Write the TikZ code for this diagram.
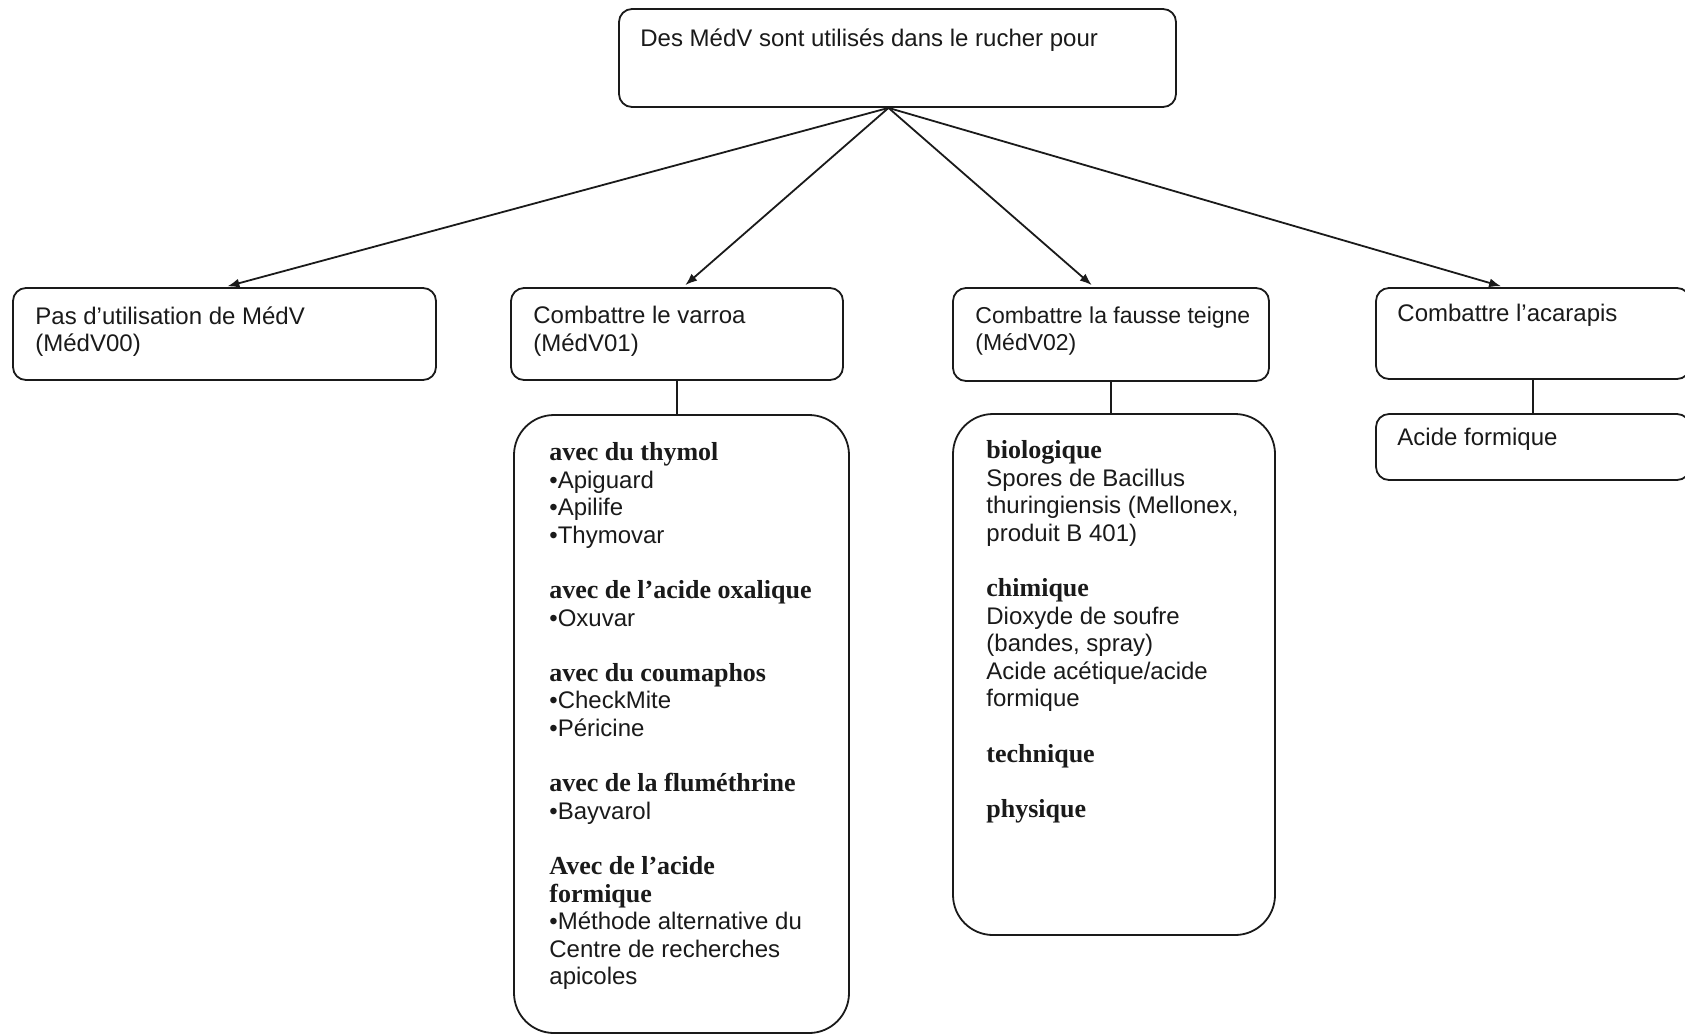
\documentclass[tikz,border=0pt]{standalone}
\usepackage{fontspec}
\setmainfont{Liberation Sans}
\newfontfamily\hdfont[Ligatures=TeX]{Liberation Serif}
\usetikzlibrary{arrows.meta,positioning,calc}
\definecolor{ink}{HTML}{1A1A1A}
\newcommand{\hd}[1]{{\hdfont\bfseries\fontsize{13}{13.8}\selectfont #1}}
\tikzset{
  >=Latex,
  every picture/.style={line cap=round, line join=round},
  every node/.style={font=\fontsize{12}{13.8}\selectfont, text=ink},
  box/.style={draw=ink, line width=0.9pt, rounded corners=6.5pt, fill=white},
  bigbox/.style={box, rounded corners=20pt},
  txt/.style={anchor=north west, align=left, inner sep=0pt},
  arrow/.style={-{Latex[length=6pt,width=4.5pt]}, line width=0.9pt, draw=ink, shorten >=1.5pt},
  conn/.style={line width=0.9pt, draw=ink}
}

\begin{document}
\begin{tikzpicture}[x=0.5pt, y=-0.5pt]
  \clip (0,0) rectangle (1685,1035);

  % Root
  \node[box, minimum width=278.5pt, minimum height=49pt] (medv) at (897.5,58) {};
  \node[txt] (medvText) at (640,28) {Des MédV sont utilisés dans le rucher pour};

  % First level
  \node[box, minimum width=211.5pt, minimum height=46pt] (none) at (224.5,334) {};
  \node[box, minimum width=166pt, minimum height=46pt] (varroa) at (677,334) {};
  \node[box, minimum width=158pt, minimum height=46.5pt] (teigne) at (1111,334.5) {};
  \node[box, minimum width=157pt, minimum height=45.5pt] (acarapis) at (1533,333.5) {};

  \node[txt] (noneText) at (35,306) {Pas d’utilisation de MédV\\(MédV00)};
  \node[txt] (varroaText) at (533,306) {Combattre le varroa\\(MédV01)};
  \node[txt, font=\fontsize{11.5}{13.8}\selectfont] (teigneText) at (975,306) {Combattre la fausse teigne\\(MédV02)};
  \node[txt] (acarapisText) at (1397,304) {Combattre l’acarapis};

  % Second level
  \node[bigbox, minimum width=167.5pt, minimum height=309pt] (varroaList) at (681.5,724) {};
  \node[bigbox, minimum width=161pt, minimum height=260.5pt] (teigneList) at (1114,674.5) {};
  \node[box, minimum width=157pt, minimum height=33pt] (acarapisList) at (1533,447) {};

  \node[txt] (varroaItems) at (549,442) {%
    \hd{avec du thymol}\\\textbullet Apiguard\\\textbullet Apilife\\\textbullet Thymovar\\[13.8pt]
    \hd{avec de l’acide oxalique}\\\textbullet Oxuvar\\[13.8pt]
    \hd{avec du coumaphos}\\\textbullet CheckMite\\\textbullet Péricine\\[13.8pt]
    \hd{avec de la fluméthrine}\\\textbullet Bayvarol\\[13.8pt]
    \hd{Avec de l’acide}\\\hd{formique}\\\textbullet Méthode alternative du\\Centre de recherches\\apicoles};
  \node[txt] (teigneItems) at (986,440) {%
    \hd{biologique}\\Spores de Bacillus\\thuringiensis (Mellonex,\\produit B 401)\\[13.8pt]
    \hd{chimique}\\Dioxyde de soufre\\(bandes, spray)\\Acide acétique/acide\\formique\\[13.8pt]
    \hd{technique}\\[13.8pt]
    \hd{physique}};
  \node[txt] (acarapisItems) at (1397,428) {Acide formique};

  % Arrows
  \draw[arrow] ([xshift=-4.5pt]medv.south) -- (none.north);
  \draw[arrow] ([xshift=-4.5pt]medv.south) -- ([xshift=3pt]varroa.north);
  \draw[arrow] ([xshift=-4.5pt]medv.south) -- ([xshift=-8.5pt]teigne.north);
  \draw[arrow] ([xshift=-4.5pt]medv.south) -- ([xshift=-14.5pt]acarapis.north);

  % Links
  \draw[conn] (varroa.south) -- (varroa.south |- varroaList.north);
  \draw[conn] (teigne.south) -- (teigne.south |- teigneList.north);
  \draw[conn] (acarapis.south) -- (acarapisList.north);
\end{tikzpicture}
\end{document}
